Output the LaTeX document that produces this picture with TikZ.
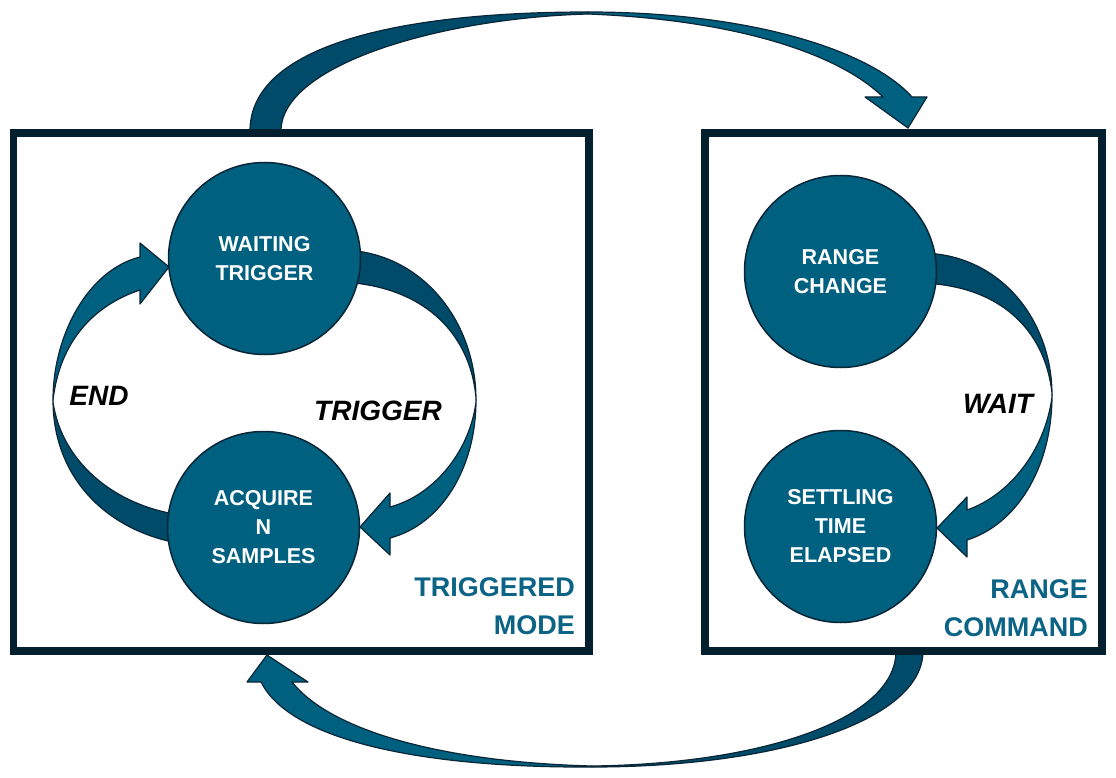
\documentclass[tikz,border=0pt]{standalone}
\usepackage{fontspec}
\setmainfont{Liberation Sans}
\definecolor{tealone}{HTML}{006080}
\definecolor{tealdark}{HTML}{004B69}
\definecolor{navyline}{HTML}{0A2636}
\definecolor{boxc}{HTML}{04202F}
\definecolor{labc}{HTML}{0B6485}
\begin{document}
\begin{tikzpicture}[x=1pt,y=-1pt,
  state/.style={circle, draw=navyline, line width=1.5pt, fill=tealone, minimum size=192pt, inner sep=0pt, align=center, text=white, font=\fontsize{21.5}{29}\selectfont\bfseries},
  frame/.style={draw=boxc, line width=7.5pt, rectangle, inner sep=0pt},
  lightpart/.style={fill=tealone, draw=navyline, line width=1.2pt, line join=round},
  darkpart/.style={fill=tealdark, draw=navyline, line width=1.2pt, line join=round},
  translabel/.style={font=\fontsize{28}{32}\selectfont\bfseries\itshape, text=black, inner sep=0pt},
  modelabel/.style={font=\fontsize{27}{38}\selectfont\bfseries, text=labc, align=right, anchor=east, inner sep=0pt}]
\useasboundingbox (0,0) rectangle (1116,778);
\fill[white] (0,0) rectangle (1116,778);

% top arrow: triggered mode -> range command
\path[darkpart] (250,131) .. controls (250,45) and (400,12) .. (588,12)
  -- (588,14) .. controls (440,18) and (281,65) .. (281,131) -- cycle;
\path[lightpart] (588,12) .. controls (750,12) and (870,50) .. (912,97)
  -- (927,97) -- (908,128) -- (865,97) -- (883,97)
  .. controls (840,55) and (740,20) .. (588,14) -- cycle;

% bottom arrow: range command -> triggered mode
\path[darkpart] (923,651) .. controls (923,720) and (780,767) .. (592,767)
  -- (592,766) .. controls (760,764) and (896,720) .. (896,651) -- cycle;
\path[lightpart] (592,767) .. controls (420,768) and (290,740) .. (261,682)
  -- (247,682) -- (267,655) -- (308,682) -- (292,682)
  .. controls (330,730) and (440,762) .. (592,766) -- cycle;

% frames
\node[frame, minimum width=575.5pt, minimum height=518pt] (lbox) at (301.25,392) {};
\node[frame, minimum width=397pt, minimum height=518pt] (rbox) at (903.5,392) {};

% END arrow
\path[darkpart] (53,400) .. controls (53,480) and (110,535) .. (190,545)
  -- (190,516) .. controls (120,510) and (62,465) .. (53,402) -- cycle;
\path[lightpart] (140,257) -- (140,243) -- (169,267) -- (140,304) -- (140,290)
  .. controls (95,305) and (60,340) .. (53,400)
  .. controls (53,335) and (88,270) .. (140,257) -- cycle;

% TRIGGER arrow
\path[darkpart] (340,250) .. controls (420,250) and (476,320) .. (476,400)
  -- (476,398) .. controls (470,330) and (420,285) .. (340,282) -- cycle;
\path[lightpart] (476,400) .. controls (476,470) and (440,525) .. (390,538)
  -- (390,555) -- (360,527) -- (390,493) -- (390,507)
  .. controls (435,495) and (470,450) .. (476,402) -- cycle;

% WAIT arrow
\path[darkpart] (920,253) .. controls (1000,253) and (1052,320) .. (1052,395)
  -- (1052,393) .. controls (1045,330) and (1000,285) .. (920,283) -- cycle;
\path[lightpart] (1052,395) .. controls (1052,470) and (1015,525) .. (967,540)
  -- (967,557) -- (937,528) -- (967,497) -- (967,510)
  .. controls (1010,495) and (1045,450) .. (1052,397) -- cycle;

% states
\node[state] (wait) at (264.5,258.5) {WAITING\\TRIGGER};
\node[state] (acq) at (263.5,527.5) {ACQUIRE\\N\\SAMPLES};
\node[state] (rng) at (840.5,271.5) {RANGE\\CHANGE};
\node[state] (set) at (840.5,526.5) {SETTLING\\TIME\\ELAPSED};

% transition labels
\node[translabel] (lend) at (99,396) {END};
\node[translabel] (ltrig) at (378,411) {TRIGGER};
\node[translabel] (lwait) at (998,404) {WAIT};

% mode labels
\node[modelabel] (ltm) at (575,606) {TRIGGERED\\MODE};
\node[modelabel] (lrc) at (1088,608.5) {RANGE\\COMMAND};
\end{tikzpicture}
\end{document}
